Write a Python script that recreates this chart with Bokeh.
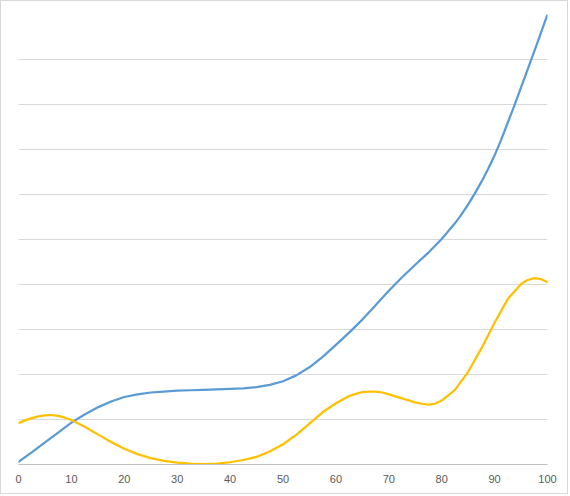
from bokeh.plotting import figure
from bokeh.models import Range1d, FixedTicker
from bokeh.embed import file_html
from bokeh.resources import INLINE

# Tick positions / labels
x_ticks = [0, 10, 20, 30, 40, 50, 60, 70, 80, 90, 100]
x_tick_labels = ["0", "10", "20", "30", "40", "50", "60", "70", "80", "90", "100"]
y_grid = [0, 1, 2, 3, 4, 5, 6, 7, 8, 9, 10]

# Blue series
blue_x = [0, 2.5, 5, 7.5, 10, 12.5, 15, 17.5, 20, 22.5, 25, 27.5, 30, 32.5, 35, 37.5, 40,
          42.5, 45, 47.5, 50, 52.5, 55, 57.5, 60, 62.5, 65, 67.5, 70, 72.5, 75, 77.5, 80,
          82.5, 83.75, 85, 86.25, 87.5, 88.75, 90, 91.25, 92.5, 93.75, 95, 96.25, 97.5,
          98.75, 100]
blue_y = [0.06, 0.27, 0.49, 0.71, 0.93, 1.11, 1.27, 1.40, 1.50, 1.56, 1.60, 1.62, 1.64,
          1.65, 1.66, 1.67, 1.68, 1.69, 1.72, 1.77, 1.85, 1.98, 2.16, 2.39, 2.66, 2.93,
          3.22, 3.54, 3.86, 4.16, 4.44, 4.71, 5.01, 5.36, 5.56, 5.78, 6.02, 6.28, 6.56,
          6.87, 7.22, 7.60, 7.98, 8.38, 8.78, 9.18, 9.59, 10.0]

# Gold series
gold_x = [0, 1.25, 2.5, 3.75, 5, 6.25, 7.5, 8.75, 10, 12.5, 15, 17.5, 20, 22.5, 25, 27.5,
          30, 32.5, 35, 37.5, 40, 42.5, 45, 47.5, 50, 52.5, 55, 57.5, 60, 62.5, 63.75, 65,
          66.25, 67.5, 68.75, 70, 72.5, 75, 76.25, 77.5, 78.75, 80, 82.5, 85, 87.5, 90,
          92.5, 95, 96.25, 97.5, 98.75, 100]
gold_y = [0.92, 0.98, 1.03, 1.07, 1.09, 1.10, 1.08, 1.04, 0.99, 0.84, 0.67, 0.50, 0.35,
          0.23, 0.14, 0.08, 0.04, 0.02, 0.01, 0.02, 0.05, 0.10, 0.17, 0.29, 0.45, 0.66,
          0.91, 1.16, 1.36, 1.52, 1.57, 1.61, 1.62, 1.62, 1.60, 1.56, 1.47, 1.38, 1.35,
          1.33, 1.35, 1.42, 1.66, 2.06, 2.58, 3.15, 3.68, 4.01, 4.10, 4.14, 4.12, 4.05]

p = figure(width=568, height=494, output_backend="svg", toolbar_location=None,
           x_range=Range1d(0, 100), y_range=Range1d(0, 10),
           y_axis_location=None,
           min_border_left=17, min_border_right=22, min_border_top=13, min_border_bottom=31)

p.outline_line_color = None
p.background_fill_color = "white"
p.border_fill_color = "white"
p.styles = {"border": "1px solid #d9d9d9"}

p.xgrid.visible = False
p.ygrid.ticker = FixedTicker(ticks=y_grid)
p.ygrid.grid_line_color = "#d9d9d9"
p.ygrid.grid_line_width = 1

ax = p.xaxis[0]
ax.ticker = FixedTicker(ticks=x_ticks)
ax.major_label_overrides = {t: l for t, l in zip(x_ticks, x_tick_labels)}
ax.axis_line_color = "#bfbfbf"
ax.axis_line_width = 1
ax.major_tick_line_color = None
ax.minor_tick_line_color = None
ax.major_tick_out = 0
ax.major_tick_in = 0
ax.major_label_standoff = 10
ax.major_label_text_font = "Liberation Sans"
ax.major_label_text_font_size = "11px"
ax.major_label_text_color = "#595959"

p.line(blue_x, blue_y, line_color="#5B9BD5", line_width=2.25,
       line_join="round", line_cap="round")
p.line(gold_x, gold_y, line_color="#FFC000", line_width=2.25,
       line_join="round", line_cap="round")

open("out.html", "w").write(file_html(p, INLINE))
